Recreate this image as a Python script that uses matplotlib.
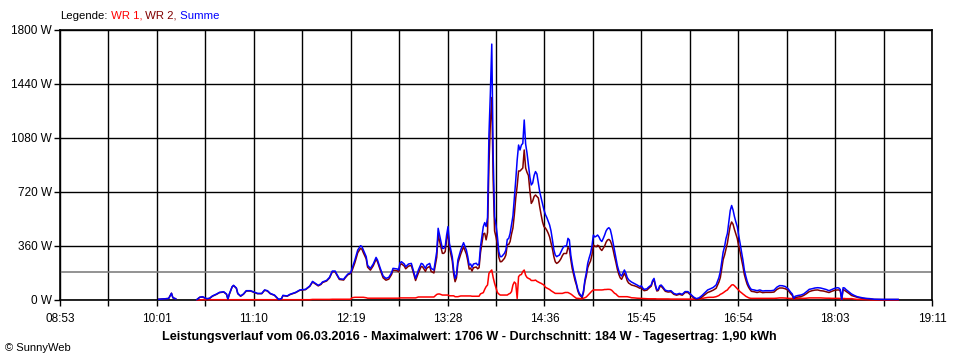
import numpy as np
import matplotlib
matplotlib.use("Agg")
import matplotlib.pyplot as plt

nan = np.nan

# ---------------- data ----------------
times = [
    "10:03", "10:07", "10:10", "10:12", "10:13", "10:15", "10:16", "10:30", "10:32", "10:34",
    "10:37", "10:39", "10:41", "10:44", "10:46", "10:49", "10:51", "10:52", "10:53", "10:55",
    "10:56", "10:58", "10:59", "11:01", "11:03", "11:05", "11:08", "11:10", "11:13", "11:16",
    "11:18", "11:20", "11:22", "11:25", "11:28", "11:30", "11:31", "11:34", "11:36", "11:40",
    "11:43", "11:47", "11:50", "11:52", "11:54", "11:56", "11:58", "11:59", "12:02", "12:04",
    "12:06", "12:08", "12:09", "12:11", "12:14", "12:15", "12:17", "12:19", "12:20", "12:22",
    "12:24", "12:26", "12:27", "12:28", "12:30", "12:31", "12:33", "12:35", "12:37", "12:38",
    "12:40", "12:42", "12:44", "12:46", "12:48", "12:49", "12:52", "12:53", "12:54", "12:55",
    "12:57", "12:58", "13:00", "13:02", "13:03", "13:05", "13:07", "13:09", "13:10", "13:12",
    "13:13", "13:15", "13:16", "13:18", "13:20", "13:21", "13:22", "13:24", "13:25", "13:26",
    "13:27", "13:28", "13:29", "13:31", "13:32", "13:33", "13:34", "13:35", "13:37", "13:39",
    "13:41", "13:42", "13:43", "13:44", "13:45", "13:46", "13:48", "13:49", "13:50", "13:51",
    "13:53", "13:54", "13:55", "13:56", "13:57", "13:58", "13:59", "14:00", "14:01", "14:02",
    "14:03", "14:04", "14:05", "14:06", "14:07", "14:08", "14:09", "14:10", "14:11", "14:12",
    "14:13", "14:14", "14:15", "14:16", "14:17", "14:18", "14:19", "14:20", "14:21", "14:22",
    "14:23", "14:24", "14:25", "14:26", "14:27", "14:28", "14:29", "14:30", "14:31", "14:32",
    "14:33", "14:34", "14:35", "14:36", "14:37", "14:38", "14:39", "14:40", "14:41", "14:42",
    "14:43", "14:44", "14:45", "14:46", "14:47", "14:48", "14:49", "14:50", "14:51", "14:52",
    "14:53", "14:54", "14:55", "14:56", "14:57", "14:58", "14:59", "15:00", "15:01", "15:02",
    "15:03", "15:04", "15:05", "15:06", "15:07", "15:08", "15:09", "15:10", "15:11", "15:12",
    "15:13", "15:14", "15:15", "15:16", "15:17", "15:18", "15:19", "15:20", "15:21", "15:22",
    "15:23", "15:24", "15:25", "15:26", "15:27", "15:28", "15:29", "15:30", "15:31", "15:32",
    "15:33", "15:34", "15:35", "15:36", "15:37", "15:38", "15:40", "15:42", "15:44", "15:45",
    "15:46", "15:47", "15:49", "15:50", "15:52", "15:53", "15:54", "15:55", "15:56", "15:57",
    "15:58", "15:59", "16:00", "16:02", "16:04", "16:06", "16:08", "16:10", "16:12", "16:14",
    "16:16", "16:18", "16:20", "16:22", "16:24", "16:26", "16:28", "16:30", "16:32", "16:34",
    "16:36", "16:38", "16:40", "16:41", "16:42", "16:43", "16:44", "16:45", "16:46", "16:47",
    "16:48", "16:49", "16:50", "16:51", "16:52", "16:53", "16:54", "16:55", "16:56", "16:57",
    "16:58", "16:59", "17:00", "17:01", "17:02", "17:03", "17:05", "17:07", "17:09", "17:11",
    "17:13", "17:15", "17:17", "17:19", "17:21", "17:23", "17:25", "17:27", "17:29", "17:31",
    "17:32", "17:33", "17:34", "17:36", "17:38", "17:40", "17:42", "17:44", "17:46", "17:48",
    "17:50", "17:52", "17:54", "17:56", "17:58", "18:00", "18:02", "18:04", "18:05", "18:06",
    "18:07", "18:08", "18:09", "18:10", "18:12", "18:14", "18:16", "18:18", "18:20", "18:22",
    "18:24", "18:27", "18:30", "18:36", "18:44", "18:47",
]

summe = [
    5, 8, 10, 45, 15, 8, nan, 3, 18, 22,
    9, 12, 27, 40, 51, 55, 40, 7, 40, 89,
    98, 80, 44, 27, 40, 62, 62, 55, 44, 44,
    67, 62, 44, 33, 4, 10, 31, 27, 38, 51,
    67, 71, 93, 124, 111, 98, 108, 120, 131, 151,
    193, 193, 175, 142, 138, 151, 173, 182, 211, 267,
    333, 362, 356, 333, 289, 231, 211, 240, 284, 267,
    211, 160, 144, 151, 182, 211, 207, 200, 249, 255,
    240, 222, 240, 244, 211, 144, 200, 244, 240, 211,
    233, 244, 211, 200, 322, 478, 433, 344, 344, 356,
    433, 489, 378, 289, 200, 144, 170, 267, 333, 382,
    333, 289, 233, 240, 218, 240, 245, 233, 240, 356,
    489, 516, 490, 550, 1100, 1378, 1706, 956, 556, 500,
    422, 322, 289, 289, 300, 311, 333, 404, 410, 444,
    500, 560, 680, 800, 933, 1033, 1000, 1033, 1044, 1200,
    1040, 978, 900, 820, 767, 780, 830, 856, 840, 780,
    720, 680, 640, 600, 570, 550, 525, 500, 460, 400,
    335, 300, 289, 295, 300, 320, 340, 356, 360, 360,
    411, 400, 300, 240, 190, 150, 111, 70, 45, 33,
    22, 60, 133, 180, 244, 280, 311, 360, 433, 420,
    425, 433, 420, 400, 390, 410, 433, 460, 475, 482,
    470, 430, 378, 330, 280, 230, 195, 170, 160, 180,
    200, 180, 150, 135, 127, 120, 110, 100, 89, 95,
    80, 71, 75, 85, 100, 130, 144, 100, 67, 70,
    95, 100, 90, 65, 60, 62, 44, 38, 44, 38,
    56, 56, 38, 20, 9, 15, 30, 49, 67, 75,
    84, 100, 150, 190, 256, 320, 356, 410, 444, 520,
    596, 630, 600, 556, 520, 489, 430, 378, 320, 267,
    200, 160, 125, 100, 82, 70, 67, 62, 67, 60,
    62, 62, 62, 65, 85, 96, 95, 90, 75, 50,
    40, 11, 25, 30, 33, 40, 55, 71, 75, 80,
    82, 80, 75, 70, 62, 70, 78, 82, 80, 70,
    4, 82, 80, 70, 55, 40, 30, 22, 18, 14,
    11, 9, 5, 4, 4, 4,
]

wr2 = [
    5, 8, 10, 45, 15, 8, nan, 3, 18, 20,
    7, 10, 25, 38, 49, 53, 38, 5, 38, 87,
    96, 78, 42, 25, 38, 60, 60, 53, 42, 42,
    65, 60, 42, 31, 2, 8, 29, 25, 36, 49,
    65, 69, 91, 120, 107, 94, 104, 116, 127, 147,
    188, 188, 170, 137, 133, 146, 168, 177, 196, 249,
    315, 344, 338, 315, 274, 219, 199, 228, 272, 255,
    199, 148, 132, 139, 170, 199, 195, 188, 235, 241,
    226, 208, 226, 230, 197, 130, 180, 224, 220, 191,
    213, 224, 191, 180, 285, 438, 393, 311, 311, 323,
    400, 450, 350, 261, 172, 122, 148, 245, 306, 355,
    306, 262, 206, 213, 193, 215, 220, 208, 215, 315,
    440, 445, 401, 450, 900, 1180, 1350, 800, 460, 420,
    370, 285, 255, 256, 267, 278, 300, 370, 370, 390,
    440, 480, 570, 680, 760, 860, 860, 870, 880, 1000,
    880, 850, 830, 730, 644, 660, 690, 700, 690, 680,
    620, 567, 520, 489, 480, 465, 445, 420, 380, 340,
    289, 255, 244, 250, 260, 275, 295, 310, 310, 310,
    350, 340, 270, 210, 170, 130, 100, 60, 36, 25,
    15, 50, 120, 160, 215, 240, 260, 300, 367, 360,
    355, 365, 360, 340, 330, 345, 360, 385, 400, 404,
    395, 370, 335, 290, 250, 205, 172, 148, 138, 158,
    178, 158, 128, 113, 107, 100, 95, 88, 78, 84,
    70, 62, 66, 76, 92, 122, 135, 92, 60, 63,
    87, 92, 82, 58, 53, 55, 38, 32, 38, 32,
    50, 50, 32, 14, 4, 8, 20, 35, 50, 57,
    66, 78, 120, 150, 210, 270, 300, 340, 380, 440,
    495, 520, 505, 470, 440, 410, 360, 320, 270, 225,
    170, 135, 105, 85, 70, 58, 55, 50, 55, 49,
    51, 51, 51, 53, 70, 80, 80, 75, 65, 40,
    30, 6, 15, 20, 22, 30, 42, 56, 62, 66,
    67, 62, 60, 55, 50, 58, 65, 67, 67, 60,
    2, 70, 65, 58, 45, 30, 24, 18, 14, 11,
    9, 7, 4, 3, 3, 3,
]

wr1 = [
    nan, nan, nan, nan, nan, nan, nan, 0, 0, 2,
    2, 2, 2, 2, 2, 2, 2, 2, 2, 2,
    2, 2, 2, 2, 2, 2, 2, 2, 2, 2,
    2, 2, 2, 2, 2, 2, 2, 2, 2, 2,
    2, 2, 2, 4, 4, 4, 4, 4, 4, 4,
    5, 5, 5, 5, 5, 5, 5, 5, 15, 18,
    18, 18, 18, 18, 15, 12, 12, 12, 12, 12,
    12, 12, 12, 12, 12, 12, 12, 12, 14, 14,
    14, 14, 14, 14, 14, 14, 20, 20, 20, 20,
    20, 20, 20, 20, 37, 40, 40, 33, 33, 33,
    33, 33, 28, 28, 28, 22, 22, 22, 27, 27,
    27, 27, 27, 27, 25, 25, 25, 25, 25, 41,
    49, 71, 89, 100, 178, 190, 200, 150, 111, 80,
    50, 40, 33, 33, 33, 33, 33, 33, 40, 44,
    56, 100, 120, 110, 10, 156, 167, 170, 190, 200,
    165, 150, 144, 140, 130, 130, 130, 133, 125, 120,
    115, 111, 105, 100, 85, 80, 75, 70, 62, 56,
    50, 44, 44, 44, 44, 44, 44, 47, 50, 50,
    50, 45, 40, 33, 25, 18, 11, 11, 10, 8,
    8, 12, 15, 20, 30, 40, 50, 60, 67, 67,
    67, 67, 67, 67, 67, 68, 70, 70, 71, 71,
    70, 65, 55, 45, 40, 30, 22, 22, 22, 22,
    22, 22, 22, 20, 18, 15, 14, 12, 11, 10,
    10, 9, 9, 8, 8, 8, 8, 8, 7, 7,
    7, 7, 7, 7, 7, 6, 6, 6, 6, 6,
    6, 6, 6, 6, 5, 7, 10, 14, 17, 18,
    18, 22, 30, 38, 42, 48, 55, 62, 67, 80,
    89, 100, 102, 95, 85, 75, 65, 55, 48, 40,
    33, 25, 20, 15, 12, 11, 11, 11, 11, 11,
    11, 11, 11, 11, 12, 14, 14, 13, 11, 10,
    10, 5, 9, 10, 11, 11, 12, 14, 14, 14,
    14, 14, 13, 12, 12, 11, 11, 11, 11, 10,
    2, 10, 10, 9, 9, 9, 6, 4, 4, 3,
    2, 1, 0, 0, 0, 0,
]

durchschnitt = 184
y_ticks = [0, 360, 720, 1080, 1440, 1800]
x_labels = ["08:53", "10:01", "11:10", "12:19", "13:28", "14:36", "15:45", "16:54", "18:03", "19:11"]
legend_parts = [("Legende:", "black"), (" WR 1,", "#ff0000"), (" WR 2,", "#800000"), (" Summe", "#0000ff")]
footer = "Leistungsverlauf vom 06.03.2016 - Maximalwert: 1706 W - Durchschnitt: 184 W - Tagesertrag: 1,90 kWh"
copyright_text = "© SunnyWeb"

# ---------------- plotting ----------------
def hm(s):
    h, m = s.split(":")
    return int(h) * 60 + int(m)

t = np.array([hm(s) for s in times], dtype=float)
t0, t1 = hm(x_labels[0]), hm(x_labels[-1])

plt.rcParams["font.family"] = ["Liberation Sans", "DejaVu Sans"]

W, H = 960, 360
fig = plt.figure(figsize=(W / 100, H / 100), dpi=100)
fig.patch.set_facecolor("white")
ax = fig.add_axes([60 / W, 1 - 300 / H, (932 - 60) / W, (300 - 30) / H])

grid_x = np.linspace(t0, t1, 2 * (len(x_labels) - 1) + 1)
ax.set_xlim(t0, t1)
ax.set_ylim(y_ticks[0], y_ticks[-1])
ax.set_xticks(grid_x)
ax.set_xticklabels([x_labels[i // 2] if i % 2 == 0 else "" for i in range(len(grid_x))])
ax.set_yticks(y_ticks)
ax.set_yticklabels([f"{v} W" for v in y_ticks])
ax.tick_params(axis="both", direction="out", length=4, width=1.0, color="black",
               labelsize=8.5, pad=2)
ax.tick_params(axis="x", pad=5)
ax.grid(True, color="black", linewidth=1.0, zorder=0)
ax.set_axisbelow(True)
for sp in ax.spines.values():
    sp.set_linewidth(1.2)
    sp.set_color("black")

ax.axhline(durchschnitt, color="#808080", linewidth=1.2, zorder=1)

ax.plot(t, wr1, color="#ff0000", linewidth=1.1, zorder=3, clip_on=False)
ax.plot(t, wr2, color="#800000", linewidth=1.1, zorder=4, clip_on=False)
ax.plot(t, summe, color="#0000ff", linewidth=1.1, zorder=5, clip_on=False)

# legend (multi-coloured text)
renderer = fig.canvas.get_renderer()
xpos = 60
for txt, col in legend_parts:
    tt = fig.text(xpos / W, 1 - 16 / H, txt, color=col, fontsize=8.2, ha="left", va="center")
    bb = tt.get_window_extent(renderer)
    xpos += bb.width

fig.text(469 / W, 1 - 337 / H, footer, fontsize=9.1, fontweight="bold", ha="center", va="center")
fig.text(5 / W, 1 - 348 / H, copyright_text, fontsize=8, ha="left", va="center")

fig.savefig("out.png", dpi=100)
